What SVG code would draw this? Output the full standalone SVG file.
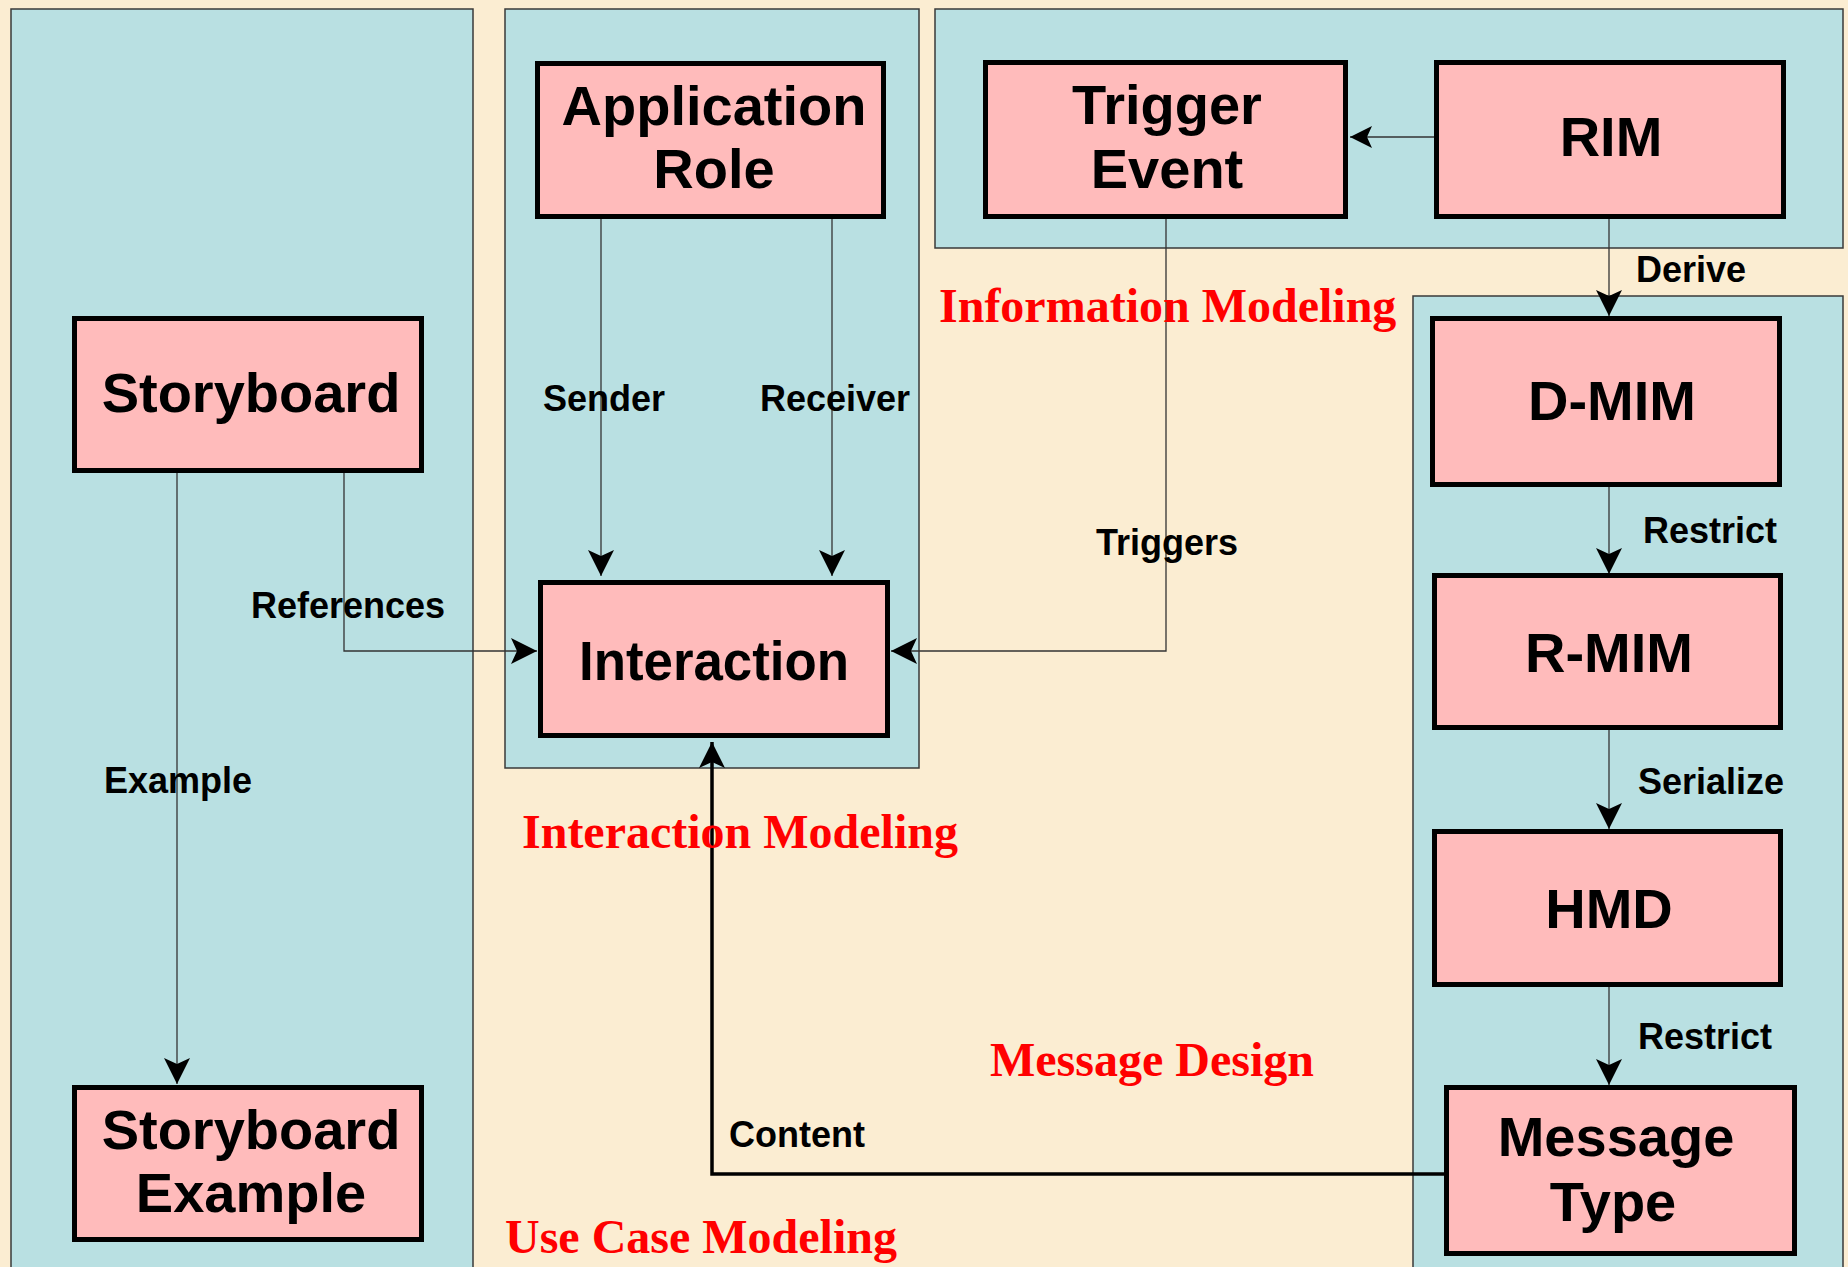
<svg xmlns="http://www.w3.org/2000/svg" width="1848" height="1267" viewBox="0 0 1848 1267">
<defs>
<style>
.bg{fill:#FBEDD2}
.panel{fill:#B9E0E2;stroke:#3a3a3a;stroke-width:1.5}
.node rect{fill:#FFBBBB;stroke:#000;stroke-width:5}
.node text{font-family:"Liberation Sans",Arial,sans-serif;font-weight:bold;font-size:56px;fill:#000;text-anchor:middle}
.conn{fill:none;stroke:#333;stroke-width:1.3}
.thick{fill:none;stroke:#000;stroke-width:3.5}
.lbl{font-family:"Liberation Sans",Arial,sans-serif;font-weight:bold;font-size:36px;fill:#000}
.area{font-family:"Liberation Serif","Times New Roman",serif;font-weight:bold;font-size:48px;fill:#FF0000}
</style>
<marker id="arr" markerUnits="userSpaceOnUse" viewBox="0 0 26 26" markerWidth="26" markerHeight="26" refX="26" refY="13" orient="auto">
<path d="M0,0 L26,13 L0,26 L6,13 Z" fill="#000"/>
</marker>
<marker id="arrs" markerUnits="userSpaceOnUse" viewBox="0 0 22 22" markerWidth="22" markerHeight="22" refX="22" refY="11" orient="auto">
<path d="M0,0 L22,11 L0,22 L5,11 Z" fill="#000"/>
</marker>
</defs>
<rect class="bg" x="0" y="0" width="1848" height="1267"/>
<g id="panels">
<rect class="panel" x="11" y="9" width="462" height="1270"/>
<rect class="panel" x="505" y="9" width="414" height="759"/>
<rect class="panel" x="935" y="9" width="908" height="239"/>
<rect class="panel" x="1413" y="296" width="430" height="990"/>
</g>
<g id="connectors">
<path class="conn" d="M177,473 V1084" marker-end="url(#arr)"/>
<path class="conn" d="M344,473 V651 H537" marker-end="url(#arr)"/>
<path class="conn" d="M601,219 V576" marker-end="url(#arr)"/>
<path class="conn" d="M832,219 V576" marker-end="url(#arr)"/>
<path class="conn" d="M1166,219 V651 H891" marker-end="url(#arr)"/>
<path class="conn" d="M1434,137 H1350" marker-end="url(#arrs)"/>
<path class="conn" d="M1609,219 V316" marker-end="url(#arr)"/>
<path class="conn" d="M1609,487 V574" marker-end="url(#arr)"/>
<path class="conn" d="M1609,730 V829" marker-end="url(#arr)"/>
<path class="conn" d="M1609,987 V1085" marker-end="url(#arr)"/>
<path class="thick" d="M1445,1174 H712 V742" marker-end="url(#arr)"/>
</g>
<g id="edge-labels">
<text class="lbl" x="104" y="793">Example</text>
<text class="lbl" x="251" y="618">References</text>
<text class="lbl" x="543" y="411">Sender</text>
<text class="lbl" x="760" y="411">Receiver</text>
<text class="lbl" x="1096" y="555">Triggers</text>
<text class="lbl" x="1636" y="282">Derive</text>
<text class="lbl" x="1643" y="543">Restrict</text>
<text class="lbl" x="1638" y="794">Serialize</text>
<text class="lbl" x="1638" y="1049">Restrict</text>
<text class="lbl" x="729" y="1147">Content</text>
</g>
<g id="area-labels">
<text class="area" x="939" y="322">Information Modeling</text>
<text class="area" x="522" y="848">Interaction Modeling</text>
<text class="area" x="990" y="1076">Message Design</text>
<text class="area" x="505" y="1253">Use Case Modeling</text>
</g>
<g id="application-role" class="node">
<rect x="537.5" y="63.5" width="346" height="153"/>
<text x="714" y="125">Application</text>
<text x="714" y="188">Role</text>
</g>
<g id="storyboard" class="node">
<rect x="74.5" y="318.5" width="347" height="152"/>
<text x="251" y="412">Storyboard</text>
</g>
<g id="storyboard-example" class="node">
<rect x="74.5" y="1087.5" width="347" height="152"/>
<text x="251" y="1149">Storyboard</text>
<text x="251" y="1212">Example</text>
</g>
<g id="interaction" class="node">
<rect x="540.5" y="582.5" width="347" height="153"/>
<text x="714" y="680" textLength="270" lengthAdjust="spacingAndGlyphs">Interaction</text>
</g>
<g id="trigger-event" class="node">
<rect x="985.5" y="62.5" width="360" height="154"/>
<text x="1167" y="124">Trigger</text>
<text x="1167" y="188">Event</text>
</g>
<g id="rim" class="node">
<rect x="1436.5" y="62.5" width="347" height="154"/>
<text x="1611" y="156">RIM</text>
</g>
<g id="d-mim" class="node">
<rect x="1432.5" y="318.5" width="347" height="166"/>
<text x="1612" y="420">D-MIM</text>
</g>
<g id="r-mim" class="node">
<rect x="1434.5" y="575.5" width="346" height="152"/>
<text x="1609" y="672">R-MIM</text>
</g>
<g id="hmd" class="node">
<rect x="1434.5" y="831.5" width="346" height="153"/>
<text x="1609" y="928">HMD</text>
</g>
<g id="message-type" class="node">
<rect x="1446.5" y="1087.5" width="348" height="166"/>
<text x="1616" y="1156">Message</text>
<text x="1613" y="1221">Type</text>
</g>
</svg>
